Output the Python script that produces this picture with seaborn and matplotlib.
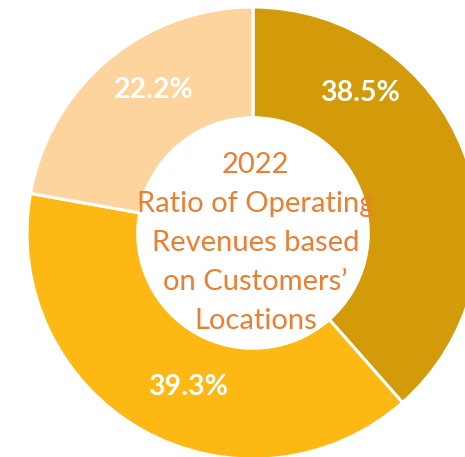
import matplotlib
matplotlib.use("Agg")
import matplotlib.pyplot as plt
import seaborn as sns
import numpy as np

# data
regions = ["Region A", "Region B", "Region C"]
shares = [38.5, 39.3, 22.2]
pct_labels = ["38.5%", "39.3%", "22.2%"]
center_title = "2022\nRatio of Operating\nRevenues based\non Customers\u2019\nLocations"

# layout
colors = ["#D39A09", "#FDB813", "#FDD49E"]
label_angles = [52.8, -112.9, 124.7]   # where the % labels sit (deg)
label_radius = [0.78, 0.74, 0.77]

sns.set_theme(style="white")
plt.rcParams["font.family"] = ["Lato", "DejaVu Sans"]

fig = plt.figure(figsize=(4.65, 4.57), dpi=100)
ax = fig.add_axes([0, 0, 1, 1])

wedges, _ = ax.pie(
    shares,
    colors=sns.color_palette(colors),
    startangle=90,
    counterclock=False,
    radius=1.0,
    wedgeprops=dict(width=0.49, edgecolor="white", linewidth=2.2),
)

for txt, ang, r in zip(pct_labels, label_angles, label_radius):
    a = np.deg2rad(ang)
    ax.text(r * np.cos(a), r * np.sin(a), txt, ha="center", va="center",
            color="white", fontsize=20.5, fontweight="bold")

ax.text(0.01, -0.044, center_title, ha="center", va="center",
        color="#ED7D31", fontsize=21, linespacing=1.62)

ax.set_xlim(-1.1195, 0.938)
ax.set_ylim(-0.991, 1.031)
ax.set_aspect("auto")
ax.axis("off")

fig.savefig("out.png", dpi=100, facecolor="white")
